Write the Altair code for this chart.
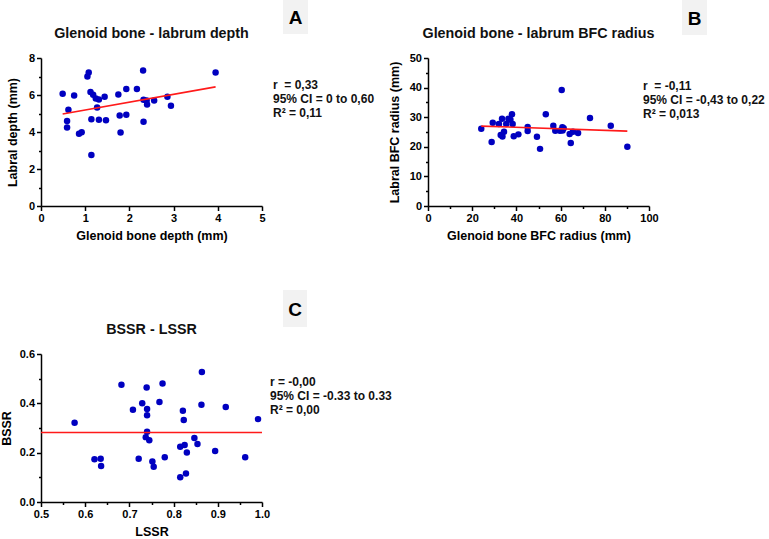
import altair as alt
import pandas as pd

# Panel A: glenoid bone depth vs labral depth (mm)
a_x = [0.49, 0.75, 0.62, 0.59, 0.59, 0.86, 0.92, 1.05, 1.08, 1.12, 1.18, 1.24,
       1.31, 1.27, 1.14, 1.14, 1.31, 1.44, 1.47, 1.75, 1.78, 1.80, 1.93, 1.93,
       2.17, 2.31, 2.32, 2.32, 2.39, 2.40, 2.56, 2.86, 2.94, 3.95]
a_y = [6.07, 5.97, 5.20, 4.60, 4.24, 3.90, 3.99, 7.00, 7.22, 6.16, 6.01, 5.81,
       5.76, 5.32, 4.69, 2.76, 4.66, 5.90, 4.64, 6.03, 4.89, 3.97, 6.32, 4.93,
       6.32, 7.33, 5.74, 4.55, 5.70, 5.49, 5.70, 5.90, 5.42, 7.22]
a_fit_x = [0.49, 3.95]
a_fit_y = [4.97, 6.44]
a_notes = ["r\u00a0 = 0,33", "95% CI = 0 to 0,60", "R\u00b2 = 0,11"]

# Panel B: glenoid bone vs labral best-fit-circle radius (mm)
b_x = [24.1, 28.8, 29.3, 32.1, 33.5, 32.9, 33.7, 34.4, 35.4, 36.4, 37.3, 38.0,
       38.3, 38.8, 40.9, 45.1, 45.1, 49.3, 50.7, 53.3, 56.7, 57.6, 59.7, 60.5,
       60.8, 61.4, 60.9, 64.1, 64.6, 65.6, 67.9, 73.3, 82.7, 90.2]
b_y = [26.1, 21.6, 28.1, 27.7, 29.5, 24.0, 23.5, 25.1, 27.7, 29.5, 29.1, 31.0,
       27.7, 23.6, 24.2, 26.7, 25.3, 23.4, 19.3, 31.0, 27.1, 25.4, 25.4, 39.2,
       26.6, 26.3, 25.5, 24.3, 21.3, 25.1, 24.7, 29.7, 27.1, 20.0]
b_fit_x = [24.1, 90.2]
b_fit_y = [27.0, 25.3]
b_notes = ["r\u00a0 = -0,11", "95% CI = -0,43 to 0,22", "R\u00b2 = 0,013"]

# Panel C: LSSR vs BSSR
c_x = [0.576, 0.621, 0.635, 0.636, 0.682, 0.708, 0.721, 0.729, 0.739, 0.740,
       0.740, 0.740, 0.737, 0.745, 0.752, 0.755, 0.768, 0.775, 0.780, 0.815,
       0.815, 0.821, 0.823, 0.825, 0.828, 0.830, 0.847, 0.854, 0.864, 0.863,
       0.894, 0.918, 0.962, 0.991]
c_y = [0.321, 0.173, 0.175, 0.146, 0.475, 0.374, 0.175, 0.400, 0.464, 0.377,
       0.352, 0.285, 0.263, 0.250, 0.164, 0.143, 0.405, 0.480, 0.181, 0.224,
       0.100, 0.370, 0.332, 0.231, 0.116, 0.201, 0.259, 0.235, 0.527, 0.394,
       0.207, 0.385, 0.181, 0.336]
c_fit_x = [0.5, 1.0]
c_fit_y = [0.282, 0.282]
c_notes = ["r = -0,00", "95% CI = -0.33 to 0.33", "R\u00b2 = 0,00"]

FONT = "Liberation Sans"
W, H = 221, 148
one = pd.DataFrame({"k": [0]})


def axis(values, minor_test, title, fmt, title_pad=6):
    return alt.Axis(
        values=values,
        tickCount=len(values) + 5,
        format=fmt,
        title=title,
        grid=False,
        domainColor="black",
        domainWidth=1.5,
        tickColor="black",
        tickWidth=1.5,
        tickSize={"condition": {"test": minor_test, "value": 2.5}, "value": 4.5},
        labelExpr=f"({minor_test}) ? '' : datum.label",
        labelFont=FONT,
        labelFontSize=11,
        labelFontWeight="bold",
        labelColor="black",
        labelOverlap=False,
        labelFlush=False,
        labelPadding=2,
        titleFont=FONT,
        titleFontSize=12.5,
        titleFontWeight="bold",
        titleColor="black",
        titlePadding=title_pad,
    )


def panel(xs, ys, fx, fy, xdom, ydom, xaxis, yaxis, title, letter, box, notes, note_xy):
    pts = pd.DataFrame({"x": xs, "y": ys})
    fit = pd.DataFrame({"x": fx, "y": fy})
    xsc = alt.Scale(domain=xdom, nice=False, zero=False)
    ysc = alt.Scale(domain=ydom, nice=False, zero=False)

    dots = alt.Chart(pts).mark_circle(size=42, color="#0000c0", opacity=1).encode(
        x=alt.X("x:Q", scale=xsc, axis=xaxis),
        y=alt.Y("y:Q", scale=ysc, axis=yaxis),
    )
    line = alt.Chart(fit).mark_line(color="#ff1a1a", strokeWidth=1.6).encode(
        x="x:Q", y="y:Q"
    )
    head = alt.Chart(one).mark_text(
        text=title, font=FONT, fontSize=14.3, fontWeight="bold", color="#111111",
        baseline="middle", align="center",
    ).encode(x=alt.value(W / 2), y=alt.value(-24))
    tag_bg = alt.Chart(one).mark_rect(color="#f2f2f2").encode(
        x=alt.value(box[0]), x2=alt.value(box[1]),
        y=alt.value(box[2]), y2=alt.value(box[3]),
    )
    tag = alt.Chart(one).mark_text(
        text=letter, font=FONT, fontSize=19, fontWeight="bold", color="black",
        baseline="middle", align="center",
    ).encode(x=alt.value((box[0] + box[1]) / 2), y=alt.value((box[2] + box[3]) / 2 + 1))
    note = alt.Chart(one).mark_text(
        text=notes, font=FONT, fontSize=12, fontWeight="bold", color="#111111",
        baseline="middle", align="left", lineHeight=14,
    ).encode(x=alt.value(note_xy[0]), y=alt.value(note_xy[1]))
    return alt.layer(dots, line, head, tag_bg, tag, note).properties(width=W, height=H)


pa = panel(
    a_x, a_y, a_fit_x, a_fit_y, [0, 5], [0, 8],
    axis([0, 0.5, 1, 1.5, 2, 2.5, 3, 3.5, 4, 4.5, 5], "datum.value % 1 != 0",
         "Glenoid bone depth (mm)", "d"),
    axis([0, 1, 2, 3, 4, 5, 6, 7, 8], "datum.value % 2 != 0",
         "Labral depth (mm)", "d", title_pad=9),
    "Glenoid bone - labrum depth", "A", (242, 267, -58, -24), a_notes, (232, 27),
)
pb = panel(
    b_x, b_y, b_fit_x, b_fit_y, [0, 100], [0, 50],
    axis([0, 10, 20, 30, 40, 50, 60, 70, 80, 90, 100], "datum.value % 20 != 0",
         "Glenoid bone BFC radius (mm)", "d"),
    axis([0, 5, 10, 15, 20, 25, 30, 35, 40, 45, 50], "datum.value % 10 != 0",
         "Labral BFC radius (mm)", "d", title_pad=8),
    "Glenoid bone - labrum BFC radius", "B", (254, 279, -58, -23), b_notes, (215, 28),
)
pc = panel(
    c_x, c_y, c_fit_x, c_fit_y, [0.5, 1.0], [0, 0.6],
    axis([0.5, 0.55, 0.6, 0.65, 0.7, 0.75, 0.8, 0.85, 0.9, 0.95, 1.0],
         "abs(datum.value * 10 - round(datum.value * 10)) > 0.01", "LSSR", ".1f"),
    axis([0, 0.1, 0.2, 0.3, 0.4, 0.5, 0.6],
         "abs(datum.value * 5 - round(datum.value * 5)) > 0.01", "BSSR", ".1f"),
    "BSSR - LSSR", "C", (242, 266, -64, -27), c_notes, (229, 28),
)

chart = alt.concat(
    pa, pb, pc, columns=2, spacing={"column": 166, "row": 148}, bounds="flush"
).properties(
    padding={"left": 0, "top": 0, "right": 0, "bottom": 0},
    background="white",
).configure_view(stroke=None)

chart.save("out.html", embed_options={"renderer": "svg", "actions": False})
